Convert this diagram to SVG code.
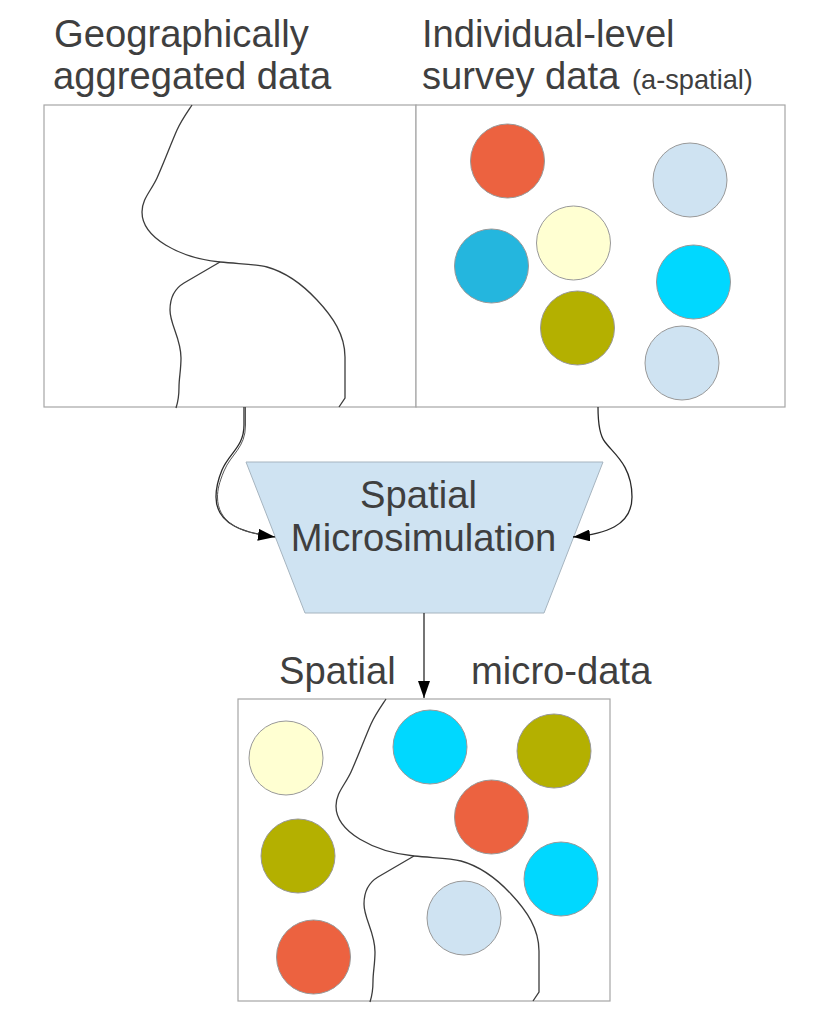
<svg xmlns="http://www.w3.org/2000/svg" xmlns:xlink="http://www.w3.org/1999/xlink" width="828" height="1035" viewBox="0 0 828 1035">
<style>
.t{font-family:"Liberation Sans",Arial,sans-serif;font-size:38.2px;fill:#3f3f3f}
.panel{fill:#fff;stroke:#a6a6a6;stroke-width:1.2}
.b{fill:none;stroke:#3c3c3c;stroke-width:1.3}
.c{stroke:#999;stroke-width:1}
.red{fill:#ec6240}.lb{fill:#cfe3f2}.cy{fill:#00d8ff}.ye{fill:#ffffd2}.ol{fill:#b4b000}.bl{fill:#24b6de}
.conn{fill:none;stroke:#2a2a2a;stroke-width:1.3}
</style>
<defs>
<marker id="a" markerUnits="userSpaceOnUse" markerWidth="18" markerHeight="12" refX="17" refY="6" orient="auto"><path d="M0 0L17 6L0 12z" fill="#000"/></marker>
<g id="bound">
<path class="b" d="M192 105C186 114 181 121 177 130C170 146 165 160 157 178C151 191 142 199 142 212C142 238 180 258 220 262C240 264 256 264 267 267C285 272 303 285 317 300C333 317 345 335 345 357V398L339 407"/>
<path class="b" d="M220 262L184 283C174 289 170 298 170 310C170 325 181 338 181 358C181 370 179 378 179 387C179 395 178 402 176 408"/>
</g>
</defs>
<rect width="828" height="1035" fill="#fff"/>
<g id="title-left"><text class="t" x="54" y="47">Geographically</text><text class="t" x="53" y="89">aggregated data</text></g>
<g id="title-right"><text class="t" x="422" y="47">Individual-level</text><text class="t" x="422" y="89">survey data <tspan dx="2" font-size="27.200px">(a-spatial)</tspan></text></g>
<g id="panel-geo"><rect class="panel" x="44" y="105" width="372" height="302"/><use xlink:href="#bound" href="#bound"/></g>
<g id="panel-survey"><rect class="panel" x="416" y="105" width="369" height="302"/>
<circle class="c red" cx="507.500" cy="161" r="37"/><circle class="c lb" cx="690" cy="180" r="37"/><circle class="c ye" cx="573.500" cy="243" r="37"/><circle class="c bl" cx="491.500" cy="266" r="37"/><circle class="c cy" cx="693.500" cy="282" r="37"/><circle class="c ol" cx="577.500" cy="328" r="37"/><circle class="c lb" cx="682" cy="363" r="37"/></g>
<g id="microsim"><path d="M246 462H603L544 613H305z" fill="#cfe3f2" stroke="#a6b4bf" stroke-width="1"/><text class="t" x="418.500" y="508" text-anchor="middle">Spatial</text><text class="t" x="423.500" y="551" text-anchor="middle">Microsimulation</text></g>
<g id="label-output"><text class="t" x="279" y="684">Spatial</text><text class="t" x="471" y="684">micro-data</text></g>
<g id="panel-micro"><rect class="panel" x="238" y="699" width="372" height="302"/><use xlink:href="#bound" href="#bound" transform="translate(194 594)"/>
<circle class="c ye" cx="286" cy="758" r="37"/><circle class="c cy" cx="430" cy="747" r="37"/><circle class="c ol" cx="554" cy="751" r="37"/><circle class="c red" cx="491.500" cy="817" r="37"/><circle class="c ol" cx="298" cy="856" r="37"/><circle class="c cy" cx="561" cy="879" r="37"/><circle class="c lb" cx="464" cy="918" r="37"/><circle class="c red" cx="313.500" cy="957" r="37"/></g>
<g id="connectors">
<path class="conn" marker-end="url(#a)" d="M244 407V425C244 447 229 453 222 470C217 482 216 490 216 497C216 525 245 533 275 537"/>
<path class="conn" style="stroke-width:1;stroke:#555" d="M245.500 407V425C245.500 448 231 454 224 471C219 483 217.500 490 217.500 497C217.500 522 240 531 258 534"/>
<path class="conn" marker-end="url(#a)" d="M598 407C598 425 600 436 605 442C613 453 632 465 632 497C632 526 605 534 573 537"/>
<path class="conn" marker-end="url(#a)" d="M424 613V698"/>
</g>
</svg>
